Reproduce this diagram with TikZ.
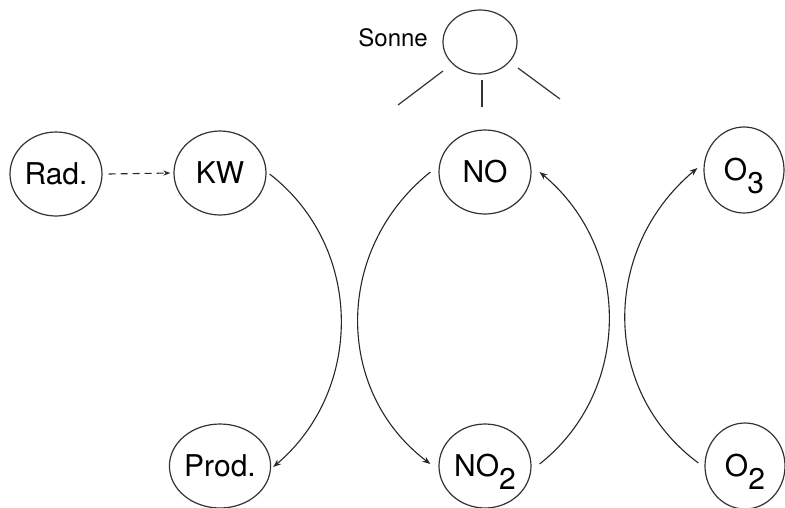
\documentclass[tikz,border=0pt]{standalone}
\usepackage{fontspec}
\setmainfont{TeX Gyre Heros}
\usetikzlibrary{shapes.geometric,arrows.meta}
\begin{document}
\begin{tikzpicture}[x=1pt,y=-1pt,
  circ/.style={draw=black!80, line width=1.2pt, ellipse, inner sep=0pt,
    minimum width=92pt, minimum height=84pt, font=\fontsize{30}{34}\selectfont},
  ocirc/.style={circ, minimum width=80pt, minimum height=86pt},
  arr/.style={draw=black!85, line width=1.1pt, -{Stealth[length=8pt,width=6pt]}},
  ray/.style={draw=black!80, line width=1.2pt}
]
\useasboundingbox (0,0) rectangle (785,507);
\newcommand{\subx}[1]{\raisebox{-13pt}[0pt][0pt]{#1}}
% nodes
\node[circ] (rad) at (56,174) {Rad.};
\node[circ] (kw) at (220,173) {KW};
\node[circ] (no) at (485,172) {NO};
\node[ocirc] (o3) at (744,170) {O\subx{3}};
\node[circ] (prod) at (220,466) {Prod.};
\node[circ] (no2) at (485,466) {NO\subx{2}};
\node[ocirc] (o2) at (745,466) {O\subx{2}};
\node[draw=black!80, line width=1.2pt, ellipse, minimum width=74pt, minimum height=64pt] (sonne) at (480,42) {};
\node[anchor=east, inner sep=0pt, font=\fontsize{24}{28}\selectfont] (sonnelbl) at (428,38) {Sonne};
% rays
\draw[ray] (443,71) -- (398,105);
\draw[ray] (482,80) -- (482,107);
\draw[ray] (518,68) -- (560,99);
% connectors
\draw[arr, dashed, dash pattern=on 7pt off 5pt, -{Stealth[length=7pt,width=5pt]}] ([xshift=6pt]rad.east) -- ([xshift=-3pt]kw.west);
\draw[arr] ([xshift=3pt,yshift=-1pt]kw.east) .. controls (364,247) and (364,390) .. ([xshift=2pt,yshift=-1pt]prod.east);
\draw[arr] ([xshift=-8pt]no.west) .. controls (334,249) and (334,391) .. ([xshift=-8pt,yshift=2pt]no2.west);
\draw[arr] ([xshift=8pt,yshift=2pt]no2.east) .. controls (632,391) and (632,249) .. ([xshift=8pt]no.east);
\draw[arr] ([xshift=-6pt,yshift=3pt]o2.west) .. controls (601,391) and (601,249) .. ([xshift=-6pt,yshift=2pt]o3.west);
\end{tikzpicture}
\end{document}
